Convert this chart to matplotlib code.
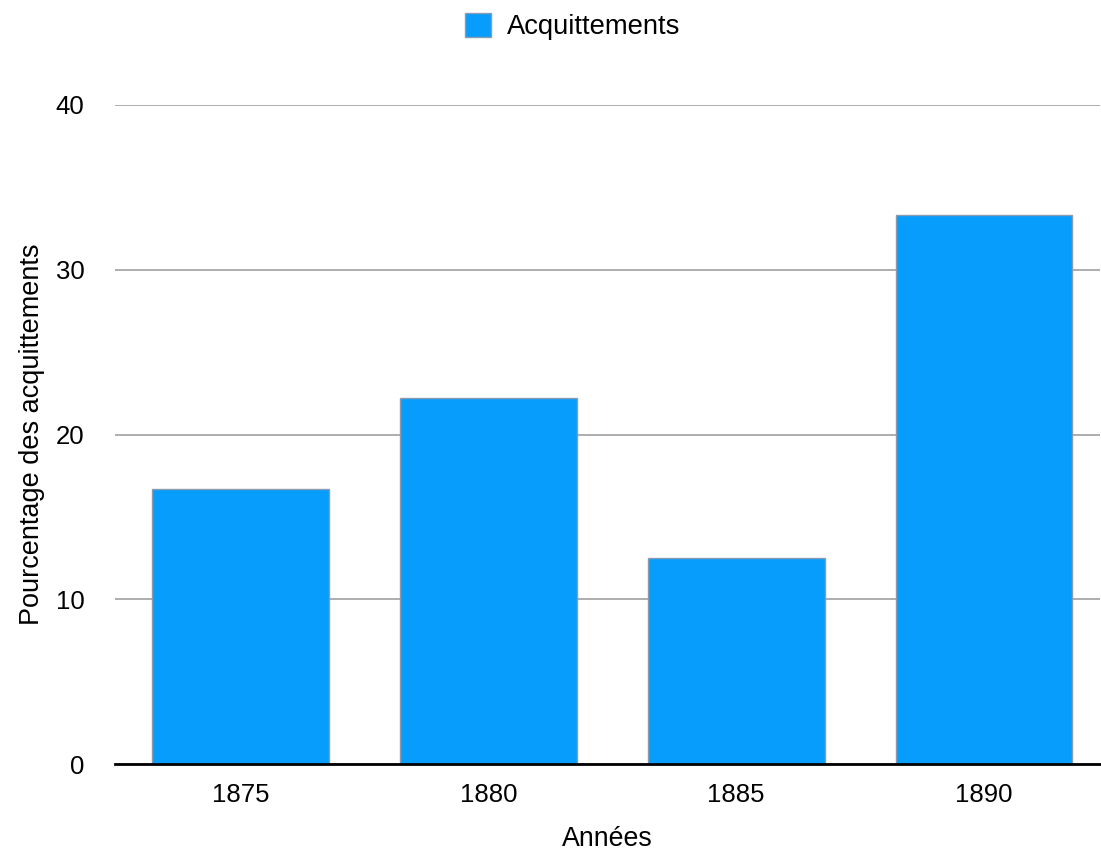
import matplotlib.pyplot as plt
import numpy as np

# Data
years = ["1875", "1880", "1885", "1890"]
acquittements = [16.7, 22.2, 12.5, 33.3]
yticks = [0, 10, 20, 30, 40]

plt.rcParams.update({"font.family": ["Liberation Sans", "DejaVu Sans"], "font.size": 19})

fig = plt.figure(figsize=(11.01, 8.52), dpi=100)
ax = fig.add_axes([115 / 1101, 1 - 764 / 852, 985 / 1101, (764 - 105) / 852])

x = np.arange(len(years))
ax.bar(x, acquittements, width=0.714, color="#069dfd", edgecolor="#8a9bb0", linewidth=1,
       label="Acquittements", zorder=3)

ax.set_xlim(-0.506, 3.468)
ax.set_ylim(0, 40)
ax.set_yticks(yticks)
ax.set_xticks(x)
ax.set_xticklabels(years)
ax.grid(axis="y", color="#a0a0a0", linewidth=1.2, zorder=0)
ax.tick_params(length=0, labelsize=18.5)
ax.tick_params(axis="x", pad=14)
ax.tick_params(axis="y", pad=22)
for s in ["top", "right", "left"]:
    ax.spines[s].set_visible(False)
ax.spines["bottom"].set_linewidth(2)
ax.spines["bottom"].set_zorder(4)

ax.set_xlabel("Années", labelpad=13, fontsize=19.3)
ax.set_ylabel("Pourcentage des acquittements", labelpad=8, fontsize=19.5)

fig.legend(loc="upper center", bbox_to_anchor=(0.52, 1.014), frameon=False,
           handlelength=0.95, handleheight=1.0, handletextpad=0.6, fontsize=19.7)

fig.savefig("out.png", dpi=100)
